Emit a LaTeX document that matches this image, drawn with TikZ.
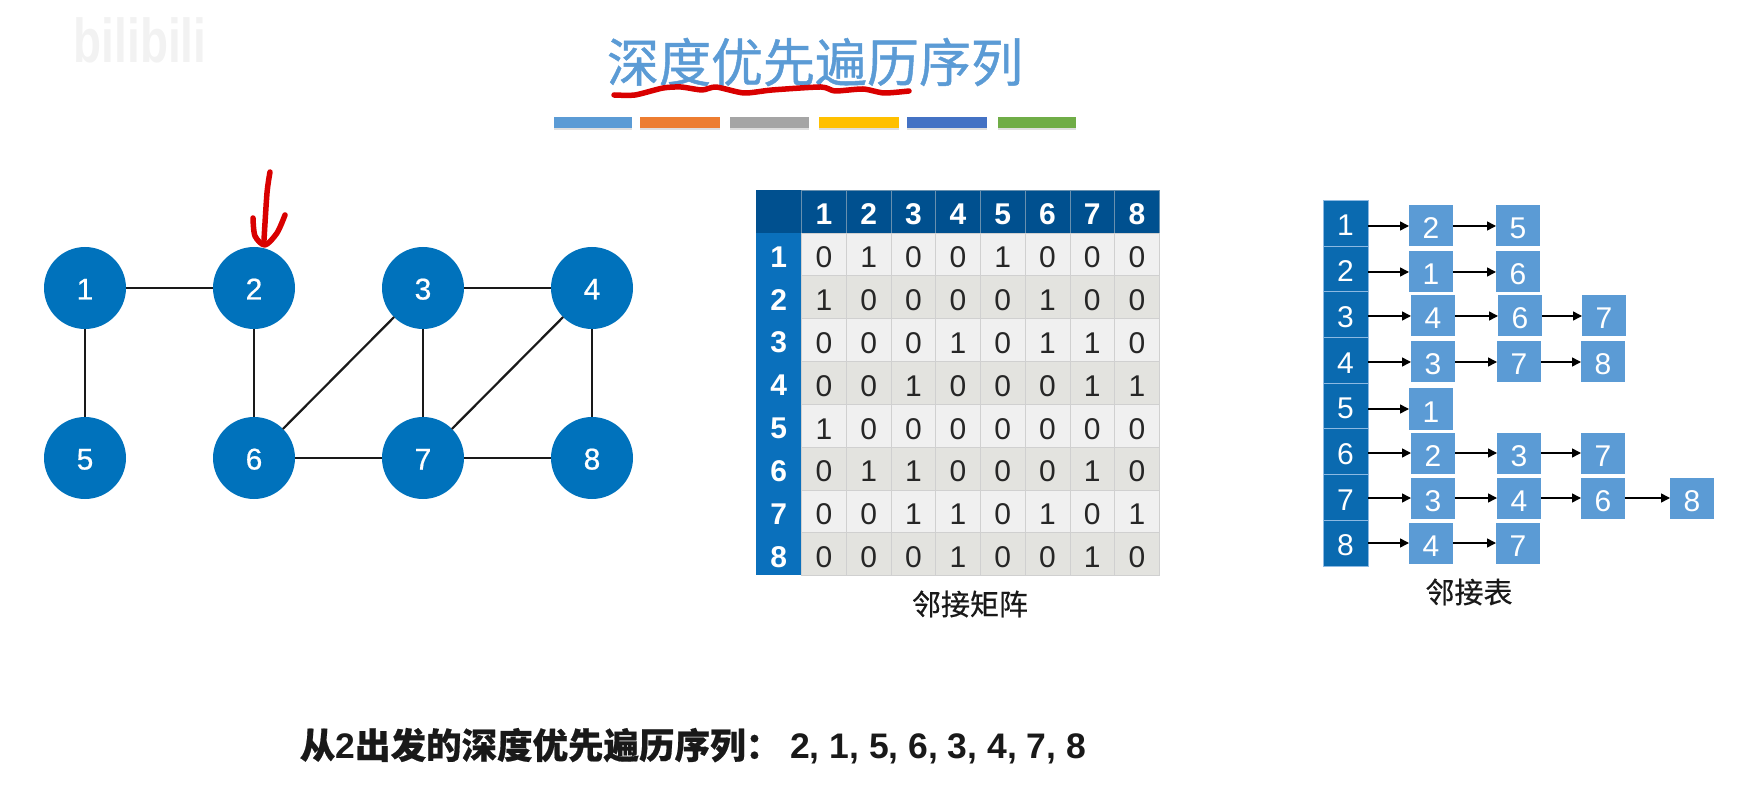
\documentclass[tikz,border=0pt]{standalone}
\usepackage{fontspec}
\setmainfont{Liberation Sans}
\newfontfamily\cjk[FakeBold=0.5]{Noto Sans CJK SC}
\newfontfamily\cjkheavy[FakeBold=0.9]{Noto Sans CJK SC}
\newfontfamily\digits[FakeBold=0.6]{Liberation Sans}
\usetikzlibrary{positioning, arrows.meta, shadows}
\definecolor{titleblue}{HTML}{5B9BD5}
\definecolor{circleblue}{HTML}{0072BC}
\definecolor{headdark}{HTML}{00508F}
\definecolor{headside}{HTML}{0A70BC}
\definecolor{listhead}{HTML}{0A6AB0}
\definecolor{cellA}{HTML}{F0F0F0}
\definecolor{cellB}{HTML}{E3E3DF}
\definecolor{gridgray}{HTML}{D0D0D0}
\definecolor{barorange}{HTML}{ED7D31}
\definecolor{bargray}{HTML}{A5A5A5}
\definecolor{baryellow}{HTML}{FFC000}
\definecolor{barblue}{HTML}{4472C4}
\definecolor{bargreen}{HTML}{70AD47}
\tikzstyle{vertex} = [circle, minimum size=82pt, inner sep=0pt, outer sep=0pt, fill=circleblue, text=white, text height=23pt, text depth=0pt, font=\fontsize{30}{30}\digits]
\tikzstyle{edge} = [line width=2.2pt, draw=black!90]
\tikzstyle{colorbar} = [rectangle, minimum height=11pt, inner sep=0pt, outer sep=0pt, drop shadow={shadow xshift=0pt, shadow yshift=-2.5pt, opacity=0.25}]
\tikzstyle{headcell} = [rectangle, inner sep=0pt, outer sep=0pt, text=white, text height=26pt, text depth=0pt, font=\fontsize{30}{30}\selectfont\bfseries]
\tikzstyle{sidecell} = [headcell, fill=headside, minimum width=45.6pt, minimum height=42.8pt]
\tikzstyle{topcell} = [headcell, fill=headdark, draw=gridgray!50!headdark, line width=0.6pt, minimum width=44.7pt, minimum height=43pt]
\tikzstyle{bitcell} = [rectangle, inner sep=0pt, outer sep=0pt, draw=gridgray, line width=0.6pt, minimum width=44.7pt, minimum height=42.8pt, text=black!85, text height=27pt, text depth=0pt, font=\fontsize{30}{30}\selectfont]
\tikzstyle{listhead} = [rectangle, inner sep=0pt, outer sep=0pt, minimum width=45pt, minimum height=45.7pt, fill=listhead, draw=titleblue!70, line width=0.5pt, text=white, text height=26pt, text depth=0pt, font=\fontsize{30}{30}\selectfont]
\tikzstyle{listcell} = [rectangle, inner sep=0pt, outer sep=0pt, minimum width=44pt, minimum height=41pt, fill=titleblue, text=white, text height=26pt, text depth=0pt, font=\fontsize{30}{30}\selectfont]
\tikzstyle{arrow} = [line width=1.5pt, -{Stealth[length=9pt, width=9pt, inset=0pt]}, draw=black]
\tikzstyle{caption} = [text=black!90, font=\fontsize{29}{29}\cjk]
\tikzstyle{stroke} = [line width=5.5pt, draw=red!85!black, line cap=round, line join=round]

\begin{document}
\begin{tikzpicture}[x=1pt, y=-1pt]
\useasboundingbox (0,0) rectangle (1748,791);

% watermark
\node (mark) [text=black!5, xscale=0.74, font=\fontsize{62}{62}\selectfont\bfseries] at (140,40) {bilibili};

% title
\node (title) [text=titleblue, font=\fontsize{52}{52}\cjkheavy] at (815,62) {深度优先遍历序列};
\draw [stroke] plot [smooth, tension=0.4] coordinates {(614,95) (635,95) (663,88) (681,87) (702,90) (716,87) (744,93) (772,90) (821,87) (835,91) (863,89) (884,93) (909,91)};

\node (bar1) [colorbar, fill=titleblue, minimum width=78pt] at (593,122.5) {};
\node (bar2) [colorbar, fill=barorange, right=8pt of bar1, minimum width=80pt] {};
\node (bar3) [colorbar, fill=bargray, right=10pt of bar2, minimum width=79pt] {};
\node (bar4) [colorbar, fill=baryellow, right=10pt of bar3, minimum width=80pt] {};
\node (bar5) [colorbar, fill=barblue, right=8pt of bar4, minimum width=80pt] {};
\node (bar6) [colorbar, fill=bargreen, right=11pt of bar5, minimum width=78pt] {};

% graph
\node (v1) [vertex] at (85,288) {1};
\node (v2) [vertex, right=87pt of v1] {2};
\node (v3) [vertex, right=87pt of v2] {3};
\node (v4) [vertex, right=87pt of v3] {4};
\node (v5) [vertex, below=88pt of v1] {5};
\node (v6) [vertex, below=88pt of v2] {6};
\node (v7) [vertex, below=88pt of v3] {7};
\node (v8) [vertex, below=88pt of v4] {8};

\draw [edge] (v1) -- (v2);
\draw [edge] (v3) -- (v4);
\draw [edge] (v1) -- (v5);
\draw [edge] (v2) -- (v6);
\draw [edge] (v3) -- (v7);
\draw [edge] (v4) -- (v8);
\draw [edge] (v6) -- (v7);
\draw [edge] (v7) -- (v8);
\draw [edge] (v6) -- (v3);
\draw [edge] (v7) -- (v4);

% red hand-drawn arrow
\draw [stroke] plot [smooth] coordinates {(270,172) (267,193) (264,240)};
\draw [stroke] plot [smooth] coordinates {(253,218) (255,236) (265,245) (277,233) (285,215)};

% adjacency matrix
\node (corner) [headcell, fill=headdark, minimum width=45.6pt, minimum height=43pt, anchor=north west] at (756,190) {};
\foreach \c/\prev in {1/corner,2/t1,3/t2,4/t3,5/t4,6/t5,7/t6,8/t7} {
  \node (t\c) [topcell, right=0pt of \prev] {\c};
}
\foreach \r/\prev in {1/corner,2/s1,3/s2,4/s3,5/s4,6/s5,7/s6,8/s7} {
  \node (s\r) [sidecell, below=0pt of \prev] {\r};
}
\foreach \r/\shade/\bits in {
  1/cellA/{0,1,0,0,1,0,0,0},
  2/cellB/{1,0,0,0,0,1,0,0},
  3/cellA/{0,0,0,1,0,1,1,0},
  4/cellB/{0,0,1,0,0,0,1,1},
  5/cellA/{1,0,0,0,0,0,0,0},
  6/cellB/{0,1,1,0,0,0,1,0},
  7/cellA/{0,0,1,1,0,1,0,1},
  8/cellB/{0,0,0,1,0,0,1,0}} {
  \foreach \b [count=\c] in \bits {
    \node (m\r\c) [bitcell, fill=\shade] at (t\c |- s\r) {\b};
  }
}
\node (matcap) [caption] at (970,604) {邻接矩阵};

% adjacency list
\node (h1) [listhead] at (1345.5,223) {1};
\node (h2) [listhead, below=0pt of h1] {2};
\node (h3) [listhead, below=0pt of h2] {3};
\node (h4) [listhead, below=0pt of h3] {4};
\node (h5) [listhead, below=0pt of h4] {5};
\node (h6) [listhead, below=0pt of h5] {6};
\node (h7) [listhead, below=0pt of h6] {7};
\node (h8) [listhead, below=0pt of h7] {8};

\node (a1) [listcell] at (1431,226) {2};
\node (a2) [listcell, right=43pt of a1] {5};
\node (b1) [listcell] at (1431,272) {1};
\node (b2) [listcell, right=43pt of b1] {6};
\node (c1) [listcell] at (1433,316) {4};
\node (c2) [listcell, right=43pt of c1] {6};
\node (c3) [listcell, right=40pt of c2] {7};
\node (d1) [listcell] at (1433,362) {3};
\node (d2) [listcell, right=42pt of d1] {7};
\node (d3) [listcell, right=40pt of d2] {8};
\node (e1) [listcell] at (1431,409) {1};
\node (f1) [listcell] at (1433,453) {2};
\node (f2) [listcell, right=42pt of f1] {3};
\node (f3) [listcell, right=40pt of f2] {7};
\node (g1) [listcell] at (1433,498) {3};
\node (g2) [listcell, right=42pt of g1] {4};
\node (g3) [listcell, right=40pt of g2] {6};
\node (g4) [listcell, right=45pt of g3] {8};
\node (i1) [listcell] at (1431,543) {4};
\node (i2) [listcell, right=43pt of i1] {7};

\draw [arrow] (h1.east |- a1) -- (a1);
\draw [arrow] (h2.east |- b1) -- (b1);
\draw [arrow] (h3.east |- c1) -- (c1);
\draw [arrow] (h4.east |- d1) -- (d1);
\draw [arrow] (h5.east |- e1) -- (e1);
\draw [arrow] (h6.east |- f1) -- (f1);
\draw [arrow] (h7.east |- g1) -- (g1);
\draw [arrow] (h8.east |- i1) -- (i1);
\draw [arrow] (a1) -- (a2);
\draw [arrow] (b1) -- (b2);
\draw [arrow] (c1) -- (c2);
\draw [arrow] (c2) -- (c3);
\draw [arrow] (d1) -- (d2);
\draw [arrow] (d2) -- (d3);
\draw [arrow] (f1) -- (f2);
\draw [arrow] (f2) -- (f3);
\draw [arrow] (g1) -- (g2);
\draw [arrow] (g2) -- (g3);
\draw [arrow] (g3) -- (g4);
\draw [arrow] (i1) -- (i2);
\node (listcap) [caption] at (1469,592) {邻接表};

% sequence line
\node (seq) [text=black!90, font=\fontsize{35.5}{35.5}\selectfont\bfseries] at (693,746) {{\cjk 从}2{\cjk 出发的深度优先遍历序列：}\hspace{9pt}2, 1, 5, 6, 3, 4, 7, 8};

\end{tikzpicture}
\end{document}
